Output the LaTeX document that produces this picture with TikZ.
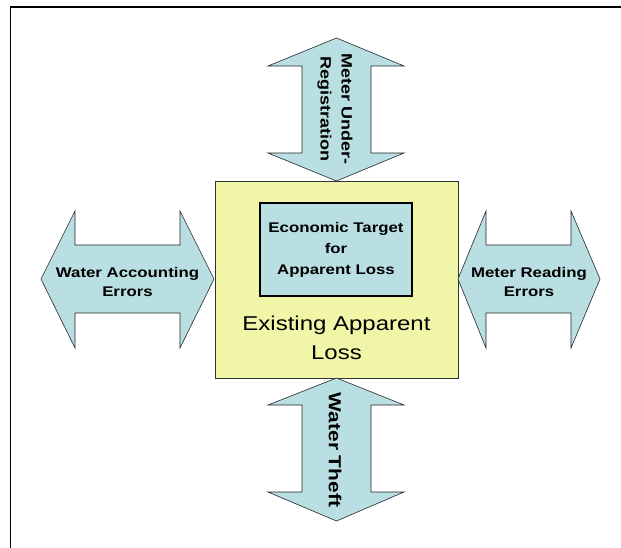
\documentclass[tikz,border=0pt]{standalone}
\usepackage{fontspec}
\setmainfont{Liberation Sans}[FakeStretch=1.2]
\usepackage{xcolor}
\usepackage{tikz}
\definecolor{lossyellow}{RGB}{240,245,168}
\definecolor{lossblue}{RGB}{185,223,227}
\usetikzlibrary{positioning}

\begin{document}
\begin{tikzpicture}[x=1pt, y=-1pt,
      twoway/.style={draw=black!85,fill=lossblue,line width=0.6},
      lbl/.style={inner sep=0,align=center,font=\bfseries\fontsize{14}{19}\selectfont},
      uplbl/.style={inner sep=0,align=center,rotate=-90},
      ]
      \useasboundingbox (0,0) rectangle (621,547);
      \draw [line width=1.5] (10.5,550) -- (10.5,7) -- (625,7);

      % centre boxes
      \draw [fill=lossyellow,draw=black!80,line width=0.8] (215,181) rectangle (458,378);
      \draw [fill=lossblue,line width=2] (260,203) rectangle (412,296);

      % the four arrows
      \draw [twoway] (41,279) -- (75,211) -- (75,245) -- (180,245) -- (180,211) -- (214,279)
          -- (180,348) -- (180,313) -- (75,313) -- (75,348) -- cycle;
      \draw [twoway] (458,279) -- (486,211) -- (486,245) -- (571,245) -- (571,211) -- (600,279)
          -- (571,348) -- (571,313) -- (486,313) -- (486,348) -- cycle;
      \draw [twoway] (336.5,38) -- (404,66) -- (371,66) -- (371,153) -- (404,153) -- (336.5,181)
          -- (268,153) -- (302,153) -- (302,66) -- (268,66) -- cycle;
      \draw [twoway] (336.5,378) -- (404,405) -- (371,405) -- (371,492) -- (404,492) -- (336.5,521)
          -- (268,492) -- (302,492) -- (302,405) -- (268,405) -- cycle;

      \node (target) at (336,250) [lbl,font=\bfseries\fontsize{14}{21}\selectfont] {Economic Target\\for\\Apparent Loss};
      \node (existing) at (336.5,338) [lbl,font=\fontsize{20}{29}\selectfont] {Existing Apparent\\Loss};
      \node (accounting) at (127.5,282) [lbl] {Water Accounting\\Errors};
      \node (reading) at (529,282) [lbl] {Meter Reading\\Errors};
      \node (under) at (335,109) [uplbl,font=\bfseries\fontsize{15}{21}\selectfont] {Meter Under-\\Registration};
      \node (theft) at (335,450) [uplbl,font=\bfseries\fontsize{17.4}{21}\selectfont] {Water Theft};
    \end{tikzpicture}
\end{document}
